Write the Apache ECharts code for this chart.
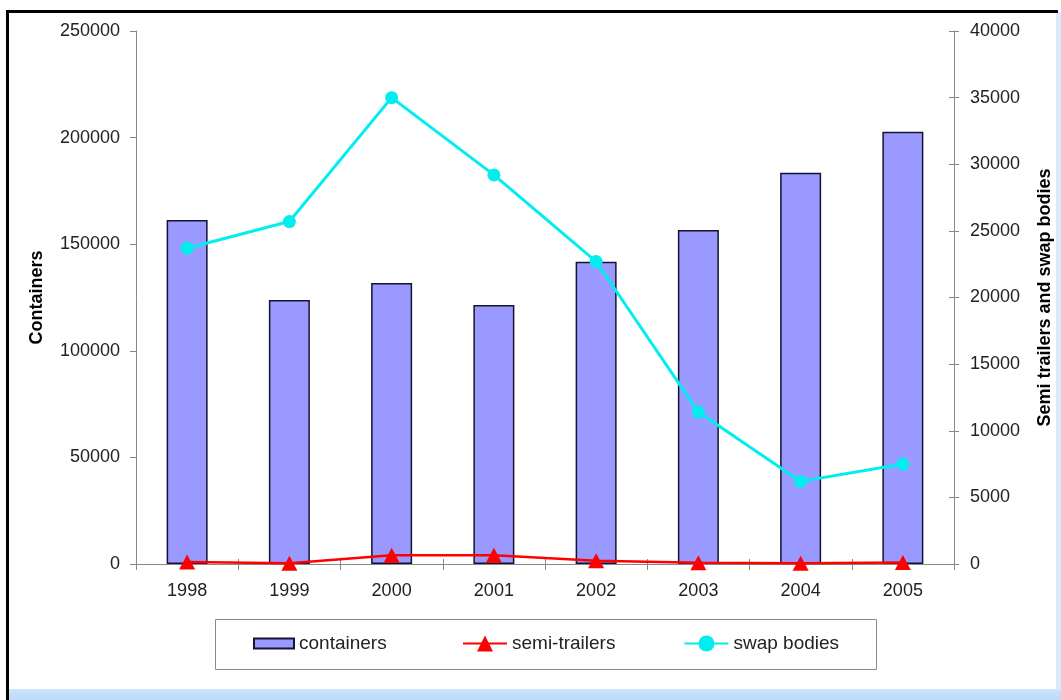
<!DOCTYPE html>
<html>
<head>
<meta charset="utf-8">
<script src="https://cdn.jsdelivr.net/npm/echarts@6/dist/echarts.min.js"></script>
<style>
  html, body { margin: 0; padding: 0; background: #ffffff; }
  #chart { width: 1061px; height: 700px; }
</style>
</head>
<body>
<div id="chart"></div>
<script>
// Yearly volumes of intermodal units
const years = ['1998', '1999', '2000', '2001', '2002', '2003', '2004', '2005'];
const containers = [161300, 123800, 131800, 121500, 141800, 156700, 183500, 202800];
const semiTrailers = [150, 50, 650, 650, 250, 100, 50, 120];
const swapBodies = [23700, 25700, 35000, 29200, 22700, 11400, 6200, 7500];
const leftTicks = { min: 0, max: 250000, interval: 50000 };
const rightTicks = { min: 0, max: 40000, interval: 5000 };

const FONT = '"Liberation Sans", Arial, sans-serif';
const chart = echarts.init(document.getElementById('chart'), null, { renderer: 'canvas' });

const labelStyle = { fontFamily: FONT, fontSize: 18, color: '#222' };
const plain = v => String(v);

chart.setOption({
  backgroundColor: '#ffffff',
  animation: false,
  graphic: [
    // light blue frame band along the bottom and right edges
    { type: 'rect', z: -10, silent: true, shape: { x: 8, y: 689, width: 1053, height: 11 },
      style: { fill: new echarts.graphic.LinearGradient(0, 0, 0, 1, [
        { offset: 0, color: '#cde4fa' }, { offset: 1, color: '#bcd9f6' }]) } },
    { type: 'rect', z: -10, silent: true, shape: { x: 1056, y: 12, width: 5, height: 678 },
      style: { fill: '#d8eafc' } },
    // black frame lines on top and left
    { type: 'rect', z: -5, silent: true, shape: { x: 6, y: 10, width: 1052, height: 3 },
      style: { fill: '#000' } },
    { type: 'rect', z: -5, silent: true, shape: { x: 6, y: 10, width: 3, height: 690 },
      style: { fill: '#000' } },
    // legend box
    { type: 'rect', z: -5, silent: true, shape: { x: 215.5, y: 619.5, width: 661, height: 50 },
      style: { fill: '#fff', stroke: '#8a8a8a', lineWidth: 1 } }
  ],
  grid: { left: 136, right: 107, top: 31, bottom: 136, containLabel: false, outerBoundsMode: 'none' },
  legend: [
    {
      data: [{ name: 'containers', icon: 'rect' }],
      left: 253, top: 634, padding: 0,
      itemWidth: 40, itemHeight: 10,
      textStyle: Object.assign({}, labelStyle, { fontSize: 19 })
    },
    {
      data: ['semi-trailers', 'swap bodies'],
      left: 462, top: 634, padding: 0, itemGap: 68,
      itemWidth: 44, itemHeight: 20,
      textStyle: Object.assign({}, labelStyle, { fontSize: 19 })
    }
  ],
  xAxis: [
    {
      type: 'category', data: years, boundaryGap: true,
      axisLine: { lineStyle: { color: '#888', width: 1 } },
      axisTick: { show: true, length: 6, lineStyle: { color: '#888' } },
      axisLabel: Object.assign({ margin: 18 }, labelStyle)
    },
    {
      // inner half of the crossing ticks on the category axis
      type: 'category', data: years, boundaryGap: true, position: 'bottom',
      axisLine: { show: false },
      axisTick: { show: true, inside: true, length: 5, lineStyle: { color: '#888' } },
      axisLabel: { show: false }
    }
  ],
  yAxis: [
    {
      type: 'value', position: 'left',
      min: leftTicks.min, max: leftTicks.max, interval: leftTicks.interval,
      name: 'Containers', nameLocation: 'middle', nameGap: 90, nameRotate: 90,
      nameTextStyle: { fontFamily: FONT, fontSize: 18, fontWeight: 'bold', color: '#000' },
      splitLine: { show: false },
      axisLine: { show: true, lineStyle: { color: '#888', width: 1 } },
      axisTick: { show: true, length: 6, lineStyle: { color: '#888' } },
      axisLabel: Object.assign({ margin: 16, formatter: plain }, labelStyle)
    },
    {
      type: 'value', position: 'right',
      min: rightTicks.min, max: rightTicks.max, interval: rightTicks.interval,
      name: 'Semi trailers and swap bodies', nameLocation: 'middle', nameGap: 82, nameRotate: 90,
      nameTextStyle: { fontFamily: FONT, fontSize: 18, fontWeight: 'bold', color: '#000' },
      splitLine: { show: false },
      axisLine: { show: true, lineStyle: { color: '#888', width: 1 } },
      axisTick: { show: true, length: 5, lineStyle: { color: '#888' } },
      axisLabel: Object.assign({ margin: 16, formatter: plain }, labelStyle)
    },
    {
      // inner half of the crossing ticks on the right axis
      type: 'value', position: 'right',
      min: rightTicks.min, max: rightTicks.max, interval: rightTicks.interval,
      splitLine: { show: false },
      axisLine: { show: false },
      axisTick: { show: true, inside: true, length: 5, lineStyle: { color: '#888' } },
      axisLabel: { show: false }
    }
  ],
  series: [
    {
      name: 'containers', type: 'bar', data: containers,
      xAxisIndex: 0, yAxisIndex: 0, barWidth: 41, z: 2,
      itemStyle: { color: '#9999ff', borderColor: '#141430', borderWidth: 1.5 }
    },
    {
      name: 'semi-trailers', type: 'line', data: semiTrailers,
      xAxisIndex: 0, yAxisIndex: 1, z: 4,
      symbol: 'triangle', symbolSize: [16, 15],
      lineStyle: { color: '#ff0000', width: 2.5 },
      itemStyle: { color: '#ff0000' }
    },
    {
      name: 'swap bodies', type: 'line', data: swapBodies,
      xAxisIndex: 0, yAxisIndex: 1, z: 5,
      symbol: 'circle', symbolSize: 13,
      lineStyle: { color: '#00eeee', width: 3 },
      itemStyle: { color: '#00eeee' }
    }
  ]
});
</script>
</body>
</html>
